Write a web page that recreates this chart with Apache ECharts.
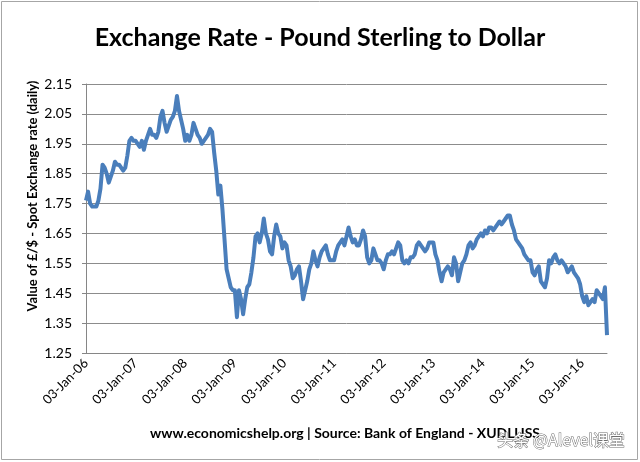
<!DOCTYPE html>
<html>
<head>
<meta charset="utf-8">
<script src="https://cdn.jsdelivr.net/npm/echarts@6/dist/echarts.min.js"></script>
<style>
html,body{margin:0;padding:0;background:#fff;}
#chart{width:640px;height:462px;}
</style>
</head>
<body>
<div id="chart"></div>
<script>
// Semi-monthly readings (1st half, 2nd half of each month), GBP/USD spot
const rate2006 = [1.76,1.79, 1.75,1.74, 1.74,1.74, 1.76,1.80, 1.88,1.87, 1.85,1.82, 1.84,1.86, 1.89,1.88, 1.88,1.87, 1.86,1.87, 1.91,1.96, 1.97,1.96];
const rate2007 = [1.96,1.95, 1.94,1.96, 1.93,1.96, 1.98,2.00, 1.98,1.98, 1.97,1.99, 2.04,2.06, 2.02,1.99, 2.01,2.03, 2.04,2.06, 2.11,2.06, 2.03,2.00];
const rate2008 = [1.96,1.98, 1.96,1.98, 2.02,2.00, 1.98,1.97, 1.95,1.96, 1.97,1.98, 2.00,1.99, 1.92,1.86, 1.78,1.81, 1.73,1.63, 1.53,1.50, 1.47,1.46];
const rate2009 = [1.46,1.37, 1.46,1.43, 1.38,1.43, 1.47,1.48, 1.52,1.57, 1.64,1.65, 1.62,1.65, 1.70,1.65, 1.63,1.59, 1.58,1.64, 1.68,1.65, 1.64,1.60];
const rate2010 = [1.62,1.61, 1.56,1.54, 1.50,1.51, 1.53,1.54, 1.49,1.43, 1.46,1.49, 1.53,1.55, 1.59,1.56, 1.54,1.57, 1.59,1.60, 1.61,1.58, 1.56,1.56];
const rate2011 = [1.56,1.59, 1.61,1.62, 1.63,1.61, 1.64,1.67, 1.64,1.62, 1.63,1.61, 1.61,1.63, 1.66,1.64, 1.57,1.55, 1.56,1.60, 1.58,1.56, 1.56,1.55];
const rate2012 = [1.53,1.56, 1.58,1.58, 1.59,1.58, 1.60,1.62, 1.61,1.56, 1.55,1.56, 1.55,1.57, 1.57,1.58, 1.61,1.62, 1.61,1.60, 1.59,1.60, 1.62,1.62];
const rate2013 = [1.62,1.58, 1.56,1.52, 1.49,1.52, 1.53,1.54, 1.53,1.51, 1.57,1.55, 1.49,1.52, 1.55,1.56, 1.58,1.61, 1.62,1.60, 1.61,1.63, 1.64,1.65];
const rate2014 = [1.64,1.66, 1.65,1.67, 1.67,1.66, 1.67,1.68, 1.69,1.68, 1.69,1.70, 1.71,1.71, 1.68,1.66, 1.63,1.62, 1.61,1.60, 1.58,1.57, 1.56,1.56];
const rate2015 = [1.52,1.51, 1.53,1.54, 1.49,1.48, 1.47,1.50, 1.56,1.55, 1.57,1.58, 1.56,1.55, 1.56,1.55, 1.54,1.52, 1.53,1.54, 1.52,1.51, 1.50,1.48];
const rate2016 = [1.44,1.42, 1.44,1.41, 1.42,1.43, 1.42,1.46, 1.45,1.44, 1.43,1.47, 1.31];
const years = [2006,2007,2008,2009,2010,2011,2012,2013,2014,2015,2016];
const yearRates = [rate2006,rate2007,rate2008,rate2009,rate2010,rate2011,rate2012,rate2013,rate2014,rate2015,rate2016];
const tickLabels = ['03-Jan-06','03-Jan-07','03-Jan-08','03-Jan-09','03-Jan-10','03-Jan-11','03-Jan-12','03-Jan-13','03-Jan-14','03-Jan-15','03-Jan-16'];
const yTicks = ['1.25','1.35','1.45','1.55','1.65','1.75','1.85','1.95','2.05','2.15'];

const data = [];
yearRates.forEach((arr, yi) => {
  arr.forEach((v, i) => { data.push([(years[yi] - 2006) + i / 24, v]); });
});

const font = 'Lato, "Open Sans", sans-serif';
const chart = echarts.init(document.getElementById('chart'), null, {renderer: 'canvas'});
chart.setOption({
  animation: false,
  backgroundColor: '#ffffff',
  title: {
    text: 'Exchange Rate - Pound Sterling to Dollar',
    left: 'center', top: 20,
    textStyle: {fontFamily: font, fontSize: 25, fontWeight: 'bold', color: '#000'}
  },
  grid: {left: 86, right: 33, top: 84, bottom: 109, containLabel: false},
  xAxis: {
    type: 'value', min: 0, max: 10.5, interval: 1,
    axisLine: {show: true, lineStyle: {color: '#868686', width: 1}},
    axisTick: {show: false},
    splitLine: {show: false},
    axisLabel: {
      rotate: 45, margin: 8, fontFamily: font, fontSize: 13, color: '#000',
      showMaxLabel: false,
      formatter: v => (Math.abs(v - Math.round(v)) < 1e-6 && tickLabels[Math.round(v)]) ? tickLabels[Math.round(v)] : ''
    }
  },
  yAxis: {
    type: 'value', min: 1.25, max: 2.15, interval: 0.1,
    axisLine: {show: true, lineStyle: {color: '#868686', width: 1}},
    axisTick: {show: true, length: 4, lineStyle: {color: '#868686'}},
    splitLine: {show: true, lineStyle: {color: '#8c8c8c', width: 1}},
    axisLabel: {
      margin: 14, fontFamily: font, fontSize: 14, color: '#000',
      formatter: v => yTicks[Math.round((v - 1.25) / 0.1)] || ''
    }
  },
  series: [{
    type: 'line', data: data, showSymbol: false, symbol: 'none',
    lineStyle: {color: '#4a7ebb', width: 4, join: 'round'},
    itemStyle: {color: '#4a7ebb'}
  }],
  graphic: [
    {type: 'rect', shape: {x: 1.5, y: 1.5, width: 636, height: 458}, style: {fill: 'none', stroke: '#a6a6a6', lineWidth: 1}, silent: true},
    {type: 'text', x: 33, y: 196, rotation: Math.PI / 2,
     style: {text: 'Value of £/$ - Spot Exchange rate (daily)', fontFamily: font, fontSize: 13, fontWeight: 'bold', fill: '#000', align: 'center', verticalAlign: 'middle'}},
    {type: 'text', x: 345, y: 433,
     style: {text: 'www.economicshelp.org | Source: Bank of England - XUDLUSS', fontFamily: font, fontSize: 14, fontWeight: 'bold', fill: '#000', align: 'center', verticalAlign: 'middle'}},
    {type: 'text', x: 561, y: 440,
     style: {text: '头条 @Alevel课堂', fontFamily: '"Noto Sans CJK SC", sans-serif', fontSize: 16, fill: '#ffffff', stroke: '#6e6e6e', lineWidth: 1, align: 'center', verticalAlign: 'middle'}}
  ]
});
</script>
</body>
</html>
